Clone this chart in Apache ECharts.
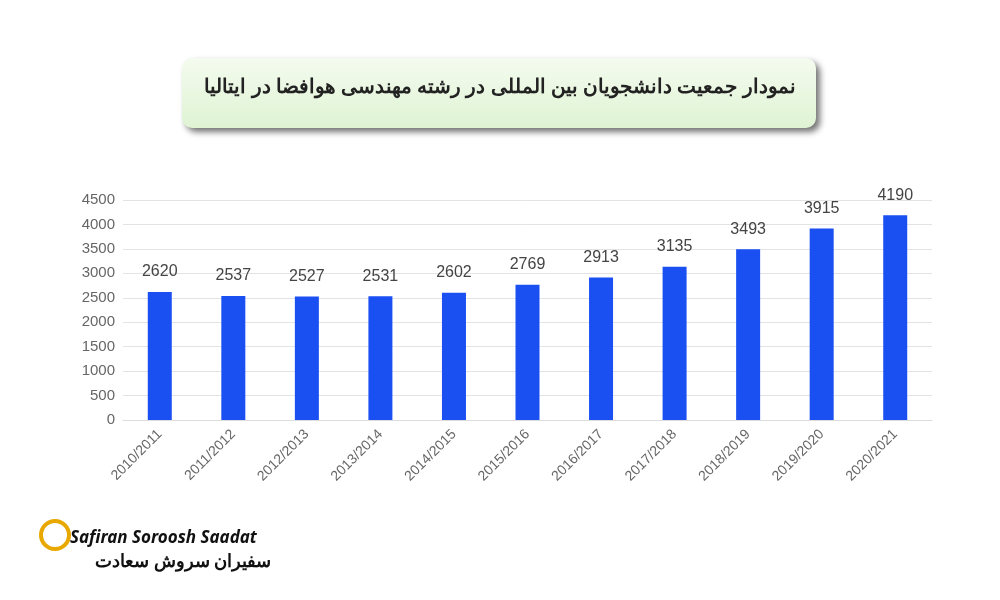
<!DOCTYPE html>
<html>
<head>
<meta charset="utf-8">
<script src="https://cdn.jsdelivr.net/npm/echarts@6/dist/echarts.min.js"></script>
<style>html,body{margin:0;padding:0;background:#fff}#chart{width:1000px;height:600px}</style>
</head>
<body>
<div id="chart"></div>
<script>
// داده‌ها
const years = ['2010/2011','2011/2012','2012/2013','2013/2014','2014/2015','2015/2016','2016/2017','2017/2018','2018/2019','2019/2020','2020/2021']
const students = [2620,2537,2527,2531,2602,2769,2913,3135,3493,3915,4190]
const titleText = 'نمودار جمعیت دانشجویان بین المللی در رشته مهندسی هوافضا در ایتالیا'

const myChart = echarts.init(document.getElementById('chart'))
myChart.setOption({
    animation: false,
    grid: { left: 123, right: 68, top: 200, bottom: 180 },
    graphic: [
        {
            type: 'rect',
            shape: { x: 182, y: 58, width: 634, height: 70, r: 10 },
            style: {
                fill: new echarts.graphic.LinearGradient(0, 0, 0, 1, [
                    { offset: 0, color: '#f4fbef' }, { offset: 1, color: '#dff3d3' }
                ]),
                shadowBlur: 6, shadowOffsetX: 4, shadowOffsetY: 4, shadowColor: 'rgba(0,0,0,0.55)'
            }
        },
        {
            type: 'text', left: 'center', top: 77,
            style: { text: titleText, fontSize: 20, fontWeight: 'bold', fontFamily: 'Noto Sans', fill: '#222' }
        },
        {
            type: 'text', left: 70, top: 530,
            style: { text: 'Safiran Soroosh Saadat', fontSize: 17, fontStyle: 'italic', fontWeight: 'bold', fontFamily: 'Noto Sans', fill: '#111' }
        },
        {
            type: 'text', left: 95, top: 553,
            style: { text: 'سفیران سروش سعادت', fontSize: 18, fontWeight: 'bold', fontFamily: 'Noto Sans', fill: '#111' }
        },
        {
            type: 'circle', shape: { cx: 55, cy: 535, r: 14 },
            style: { fill: 'none', stroke: '#e8a800', lineWidth: 4 }
        }
    ],
    xAxis: {
        type: 'category',
        data: years,
        axisLabel: { rotate: 45, color: '#666', fontSize: 14, margin: 12 },
        axisTick: { show: false },
        axisLine: { lineStyle: { color: '#ddd' } }
    },
    yAxis: {
        type: 'value',
        min: 0, max: 4500, interval: 500,
        axisLabel: { color: '#666', fontSize: 15, formatter: v => String(v) },
        axisLine: { show: false },
        axisTick: { show: false },
        splitLine: { lineStyle: { color: '#e3e3e3' } }
    },
    series: [{
        type: 'bar',
        data: students,
        barWidth: 24,
        itemStyle: { color: '#1a4ff2' },
        label: { show: true, position: 'top', color: '#444', fontSize: 16, distance: 12 }
    }]
})
</script>
</body>
</html>
